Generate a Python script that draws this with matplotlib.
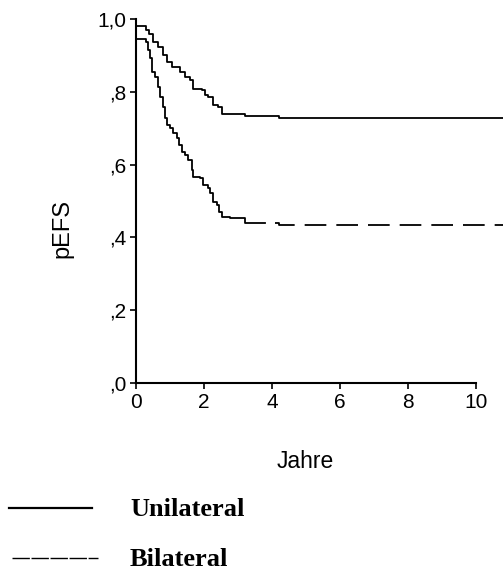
import numpy as np
import matplotlib
matplotlib.use("Agg")
import matplotlib.pyplot as plt
from matplotlib.lines import Line2D

plt.rcParams['font.family'] = ['Liberation Sans', 'DejaVu Sans']
plt.rcParams['lines.scale_dashes'] = False

# ---------------- DATA ----------------
uni_t = [0.0, 0.29, 0.39, 0.51, 0.66, 0.80, 0.90, 1.05, 1.29, 1.44, 1.59, 1.69,
         1.93, 2.03, 2.13, 2.27, 2.42, 2.52, 3.21, 4.20, 10.8]
uni_s = [0.981, 0.971, 0.960, 0.938, 0.924, 0.901, 0.883, 0.869, 0.855, 0.842,
         0.832, 0.809, 0.805, 0.791, 0.787, 0.764, 0.757, 0.739, 0.734, 0.729, 0.729]

bi_t = [0.0, 0.29, 0.36, 0.41, 0.46, 0.56, 0.66, 0.71, 0.78, 0.85, 0.92, 1.00,
        1.10, 1.20, 1.27, 1.34, 1.44, 1.54, 1.64, 1.69, 1.88, 1.98, 2.13, 2.18,
        2.27, 2.37, 2.45, 2.52, 2.76, 3.21, 3.79]
bi_s = [0.944, 0.938, 0.915, 0.892, 0.855, 0.842, 0.814, 0.787, 0.759, 0.727,
        0.709, 0.700, 0.686, 0.672, 0.654, 0.635, 0.626, 0.613, 0.585, 0.567,
        0.562, 0.544, 0.535, 0.521, 0.498, 0.489, 0.471, 0.457, 0.452, 0.440, 0.440]
# censored tail of bilateral group (drawn dashed)
bi_tail_t = [3.79, 4.19, 10.8]
bi_tail_s = [0.440, 0.434, 0.434]

yticks = [0.0, 0.2, 0.4, 0.6, 0.8, 1.0]
ytick_labels = [",0", ",2", ",4", ",6", ",8", "1,0"]
xticks = [0, 2, 4, 6, 8, 10]

# ---------------- FIGURE ----------------
W, H = 503, 572
fig = plt.figure(figsize=(W / 100, H / 100), dpi=100)
ax = fig.add_axes([136 / W, (H - 383) / H, (W - 136) / W, 364 / H])

ax.step(uni_t, uni_s, where="post", color="black", linewidth=1.3, clip_on=False)
ax.step(bi_t, bi_s, where="post", color="black", linewidth=1.3, clip_on=False)
ax.step(bi_tail_t, bi_tail_s, where="post", color="black", linewidth=1.3,
        linestyle=(15.6, (15.6, 7.2)), clip_on=False)

ax.set_xlim(0, 10.79)
ax.set_ylim(0, 1.0)
ax.spines["top"].set_visible(False)
ax.spines["right"].set_visible(False)
ax.spines["bottom"].set_bounds(0, 10)
for s in ("left", "bottom"):
    ax.spines[s].set_linewidth(1.5)

ax.set_xticks(xticks)
ax.set_yticks(yticks)
ax.set_yticklabels(ytick_labels)
ax.tick_params(direction="out", length=4, width=1.2, labelsize=15, pad=3)

ax.set_xlabel("Jahre", fontsize=16.5, va="center")
ax.xaxis.set_label_coords((305 - 136) / (W - 136), (383 - 462) / 364)
ax.set_ylabel("pEFS", fontsize=17, va="center")
ax.yaxis.set_label_coords((62 - 136) / (W - 136), (383 - 228) / 364)

# ---------------- LEGEND ----------------
fig.add_artist(Line2D([9 / W, 92 / W], [(H - 508) / H] * 2, color="black",
                      linewidth=1.6))
fig.add_artist(Line2D([12 / W, 98 / W], [(H - 558) / H] * 2, color="black",
                      linewidth=1.0, linestyle=(0, (12.5, 1.2))))
fig.text(130 / W, (H - 510) / H, "Unilateral", fontsize=19, fontweight="bold",
         family=["Liberation Serif", "DejaVu Serif"], va="center")
fig.text(130 / W, (H - 559) / H, "Bilateral", fontsize=19, fontweight="bold",
         family=["Liberation Serif", "DejaVu Serif"], va="center")

fig.savefig("out.png", dpi=100)
